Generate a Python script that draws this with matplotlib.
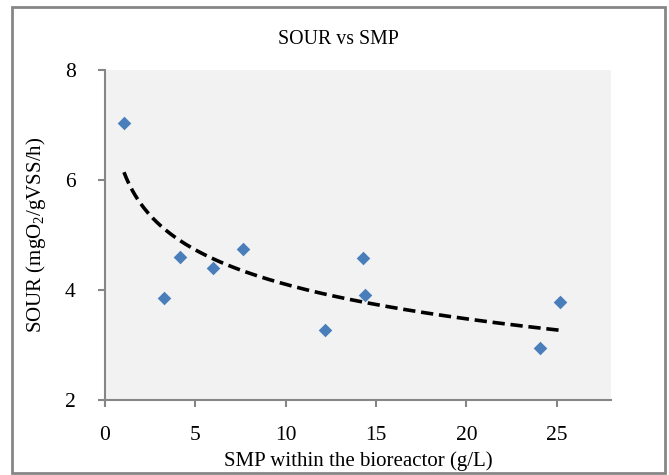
import numpy as np
import matplotlib
matplotlib.use("Agg")
import matplotlib.pyplot as plt
from matplotlib.patches import Rectangle

smp = [1.05, 3.26, 4.15, 5.97, 7.63, 12.17, 14.27, 14.38, 24.06, 25.2]
sour = [7.04, 3.85, 4.60, 4.40, 4.75, 3.27, 4.58, 3.91, 2.95, 3.78]

plt.rcParams['font.family'] = ['Liberation Serif', 'DejaVu Serif']
plt.rcParams['mathtext.fontset'] = 'custom'
plt.rcParams['mathtext.rm'] = 'Liberation Serif'
plt.rcParams['mathtext.it'] = 'Liberation Serif:italic'

W, H = 669, 475
fig = plt.figure(figsize=(W/100, H/100), dpi=100)
ax = fig.add_axes([105/W, 1-400/H, (611-105)/W, (400-70)/H])
ax.set_facecolor('#f2f2f2')

ax.scatter(smp, sour, marker='D', s=48, color='#4a7ebb', zorder=3, linewidths=0)

# logarithmic trendline
a, b = np.polyfit(np.log(smp), sour, 1)
xs = np.linspace(min(smp), max(smp), 200)
ax.plot(xs, a*np.log(xs)+b, color='black', lw=2.6, ls=(0, (3.4, 1.6)), zorder=2)

ax.set_xlim(0, 28)
ax.set_ylim(2, 8)
ax.set_xticks([0, 5, 10, 15, 20, 25])
ax.set_yticks([2, 4, 6, 8])
for s in ['top', 'right']:
    ax.spines[s].set_visible(False)
for s in ['left', 'bottom']:
    ax.spines[s].set_color('#868686')
    ax.spines[s].set_linewidth(1.5)
ax.tick_params(axis='both', colors='#868686', length=5, width=1.5, labelsize=15.5, labelcolor='black')
ax.tick_params(axis='x', pad=14)
ax.tick_params(axis='y', pad=16)

ax.set_xlabel('SMP within the bioreactor (g/L)', fontsize=15, labelpad=4)
ax.set_ylabel('SOUR (mgO$_2$/gVSS/h)', fontsize=15, labelpad=12)
fig.text(338/W, 1-40/H, 'SOUR vs SMP', ha='center', va='center', fontsize=14.3)

fig.patches.append(Rectangle((12/W, 1-473/H), (665-12)/W, (473-7)/H, transform=fig.transFigure,
                             fill=False, edgecolor='#868686', lw=2))

fig.savefig('out.png', dpi=100)
